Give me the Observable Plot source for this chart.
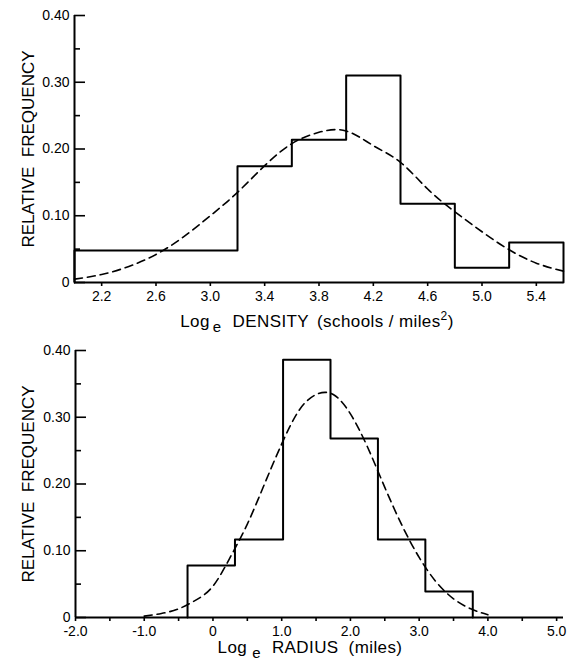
<!DOCTYPE html>
<html><head><meta charset="utf-8">
<script src="https://cdn.jsdelivr.net/npm/d3@7"></script>
<script src="https://cdn.jsdelivr.net/npm/@observablehq/plot@0.6"></script>
<style>
body{margin:0;background:#fff;}
#c{width:569px;}
#c svg{display:block;}
</style></head><body><div id="c"></div>
<script>
// ---- Top panel: Log_e DENSITY ----
const densityEdges = [2.0, 3.2, 3.6, 4.0, 4.4, 4.8, 5.2, 5.6];
const densityFreq = [0.048, 0.174, 0.214, 0.31, 0.118, 0.022, 0.06];
const densityCurveX = [2.0, 2.2, 2.4, 2.6, 2.8, 3.0, 3.2, 3.4, 3.6, 3.8, 4.0, 4.2, 4.4, 4.6, 4.8, 5.0, 5.2, 5.4, 5.6];
const densityCurveY = [0.005, 0.012, 0.024, 0.042, 0.068, 0.10, 0.135, 0.175, 0.208, 0.225, 0.227, 0.205, 0.18, 0.14, 0.106, 0.076, 0.049, 0.029, 0.017];
const densityTicks = [2.2, 2.6, 3.0, 3.4, 3.8, 4.2, 4.6, 5.0, 5.4];

// ---- Bottom panel: Log_e RADIUS ----
const radiusEdges = [-0.37, 0.32, 1.02, 1.71, 2.40, 3.09, 3.78];
const radiusFreq = [0.078, 0.117, 0.386, 0.268, 0.117, 0.039];
const radiusCurveX = [-1.0, -0.75, -0.5, -0.25, 0, 0.25, 0.5, 0.75, 1.0, 1.25, 1.5, 1.75, 2.0, 2.25, 2.5, 2.75, 3.0, 3.25, 3.5, 3.75, 4.0];
const radiusCurveY = [0.002, 0.006, 0.013, 0.026, 0.047, 0.09, 0.14, 0.2, 0.26, 0.31, 0.334, 0.334, 0.305, 0.255, 0.195, 0.138, 0.09, 0.053, 0.028, 0.013, 0.004];
const radiusTicks = [-2, -1, 0, 1, 2, 3, 4, 5];
const radiusMinorTicks = [-1.5, -0.5, 0.5, 1.5, 2.5, 3.5, 4.5];

// ---- Shared y ticks and labels ----
const yTicks = [0, 0.1, 0.2, 0.3, 0.4];
const yMinorTicks = [0.05, 0.15, 0.25, 0.35];
const yLabel = "RELATIVE  FREQUENCY";

const FONT = "Liberation Sans, Arial, sans-serif";
const WIDTH = 569, MARGIN_RIGHT = 6;

function stepOutline(edges, freq) {
  const n = freq.length;
  const pts = [{x: edges[0], y: 0}];
  edges.forEach((e, i) => pts.push({x: e, y: i < n ? freq[i] : freq[n - 1]}));
  pts.push({x: edges[edges.length - 1], y: 0});
  return pts;
}

function panel({edges, freq, cx, cy, xDomain, xTicks, xMinor, xFmt, height, marginTop, marginBottom, marginLeft, labelParts, labelX, labelY}) {
  const curve = cx.map((x, i) => ({x, y: cy[i]}));
  const frameW = WIDTH - marginLeft - MARGIN_RIGHT;
  const svg = Plot.plot({
    width: WIDTH,
    height,
    marginTop, marginBottom, marginLeft, marginRight: MARGIN_RIGHT,
    style: {fontFamily: FONT, fontSize: "14px", color: "#000", background: "#fff", overflow: "visible"},
    x: {domain: xDomain},
    y: {domain: [0, 0.4]},
    marks: [
      Plot.axisY({ticks: yTicks, tickSize: 0, tickPadding: 5, tickFormat: d => d === 0 ? "0" : d.toFixed(2), label: null, fontSize: 14}),
      // inward tick marks on the y axis
      Plot.tickY(yTicks, {y: d => d, insetRight: frameW - 11, stroke: "#000", strokeWidth: 1.6}),
      Plot.tickY(yMinorTicks, {y: d => d, insetRight: frameW - 6, stroke: "#000", strokeWidth: 1.6}),
      Plot.text([yLabel], {frameAnchor: "left", rotate: -90, dx: 28 - marginLeft, textAnchor: "middle", lineAnchor: "middle", fontSize: 17, fill: "#000"}),
      Plot.axisX({ticks: xTicks, tickSize: 4, tickPadding: 5, tickFormat: xFmt, label: null, strokeWidth: 1.6, fontSize: 14}),
      xMinor ? Plot.axisX({ticks: xMinor, tickSize: 4, tickFormat: () => "", label: null, strokeWidth: 1.6}) : null,
      Plot.ruleY([0], {strokeWidth: 2}),
      Plot.ruleX([xDomain[0]], {strokeWidth: 2}),
      Plot.line(stepOutline(edges, freq), {x: "x", y: "y", curve: "step-after", stroke: "#000", strokeWidth: 2}),
      Plot.line(curve, {x: "x", y: "y", curve: "natural", stroke: "#000", strokeWidth: 1.6, strokeDasharray: "8,5"})
    ]
  });
  const t = d3.select(svg).append("text")
    .attr("x", labelX).attr("y", labelY)
    .attr("text-anchor", "middle")
    .attr("font-family", FONT)
    .attr("font-size", 17)
    .attr("letter-spacing", "0.4px")
    .attr("fill", "#000");
  labelParts.forEach(p => {
    const s = t.append("tspan").text(p.text);
    if (p.dx) s.attr("dx", p.dx);
    if (p.dy) s.attr("dy", p.dy);
    if (p.size) s.attr("font-size", p.size);
  });
  return svg;
}

const topPanel = panel({
  edges: densityEdges, freq: densityFreq, cx: densityCurveX, cy: densityCurveY,
  xDomain: [2.0, 5.6], xTicks: densityTicks, xMinor: null,
  xFmt: d => d.toFixed(1),
  height: 338, marginTop: 15, marginBottom: 56, marginLeft: 74,
  labelParts: [
    {text: "Log"}, {text: "e", dx: 3, dy: 5, size: 15}, {text: "DENSITY", dx: 11, dy: -5},
    {text: "(schools / miles", dx: 8}, {text: "2", dy: -7, size: 12}, {text: ")", dy: 7}
  ],
  labelX: 317, labelY: 327
});

const bottomPanel = panel({
  edges: radiusEdges, freq: radiusFreq, cx: radiusCurveX, cy: radiusCurveY,
  xDomain: [-2.0, 5.1], xTicks: radiusTicks, xMinor: radiusMinorTicks,
  xFmt: d => d === 0 ? "0" : d.toFixed(1),
  height: 330, marginTop: 12, marginBottom: 51, marginLeft: 75,
  labelParts: [
    {text: "Log"}, {text: "e", dx: 5, dy: 5, size: 15}, {text: "RADIUS", dx: 11, dy: -5}, {text: "(miles)", dx: 10}
  ],
  labelX: 310, labelY: 315
});

document.getElementById("c").append(topPanel, bottomPanel);
</script>
</body></html>
